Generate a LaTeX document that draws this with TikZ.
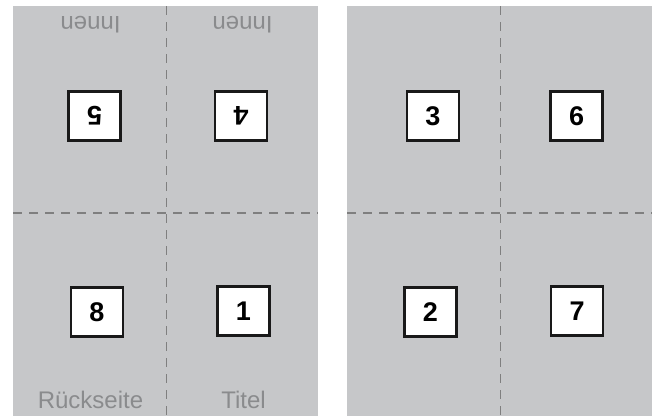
\documentclass[tikz,border=0pt]{standalone}
\usepackage{fontspec}
\setmainfont{Liberation Sans}
\definecolor{sheet}{HTML}{C6C7C9}
\definecolor{lbl}{HTML}{8A8B8D}
\definecolor{fold}{HTML}{7F7F7F}
\begin{document}
\begin{tikzpicture}[x=1pt,y=-1pt,
  sheetbox/.style={fill=sheet,draw=none},
  foldline/.style={draw=fold,line width=1.6pt,dash pattern=on 9pt off 7pt},
  pagebox/.style={draw=black!90,fill=white,line width=2.8pt,minimum width=52pt,minimum height=49pt,inner sep=0pt,font=\fontsize{27}{27}\selectfont\bfseries},
  pagelabel/.style={text=lbl,inner sep=0pt,font=\fontsize{24}{24}\selectfont}]
\useasboundingbox (0,0) rectangle (658,416);
\fill[white] (0,0) rectangle (658,416);
% sheets
\path[sheetbox] (13,6) rectangle (318,416);
\path[sheetbox] (347,6) rectangle (652,416);
% fold lines
\coordinate (lvt) at (166.5,6);
\coordinate (lvb) at (166.5,416);
\coordinate (lhl) at (13,213);
\coordinate (lhr) at (318,213);
\coordinate (rvt) at (500.5,6);
\coordinate (rvb) at (500.5,416);
\coordinate (rhl) at (347,213);
\coordinate (rhr) at (652,213);
\draw[foldline] (lvt) -- (lvb);
\draw[foldline] (lhl) -- (lhr);
\draw[foldline] (rvt) -- (rvb);
\draw[foldline] (rhl) -- (rhr);
% page boxes
\node[pagebox,rotate=180] (p5) at (94.5,116) {5};
\node[pagebox,rotate=180] (p4) at (241,116) {4};
\node[pagebox] (p8) at (97,312) {8};
\node[pagebox] (p1) at (243.5,311) {1};
\node[pagebox] (p3) at (433,116) {3};
\node[pagebox] (p6) at (576.5,116) {6};
\node[pagebox] (p2) at (430.5,312) {2};
\node[pagebox] (p7) at (577,311) {7};
% labels
\node[pagelabel,rotate=180] (inl) at (90.5,24.5) {Innen};
\node[pagelabel,rotate=180] (inr) at (242.5,24.5) {Innen};
\node[pagelabel] (rs) at (90.5,400) {Rückseite};
\node[pagelabel] (ti) at (243.5,400) {Titel};
\end{tikzpicture}
\end{document}
